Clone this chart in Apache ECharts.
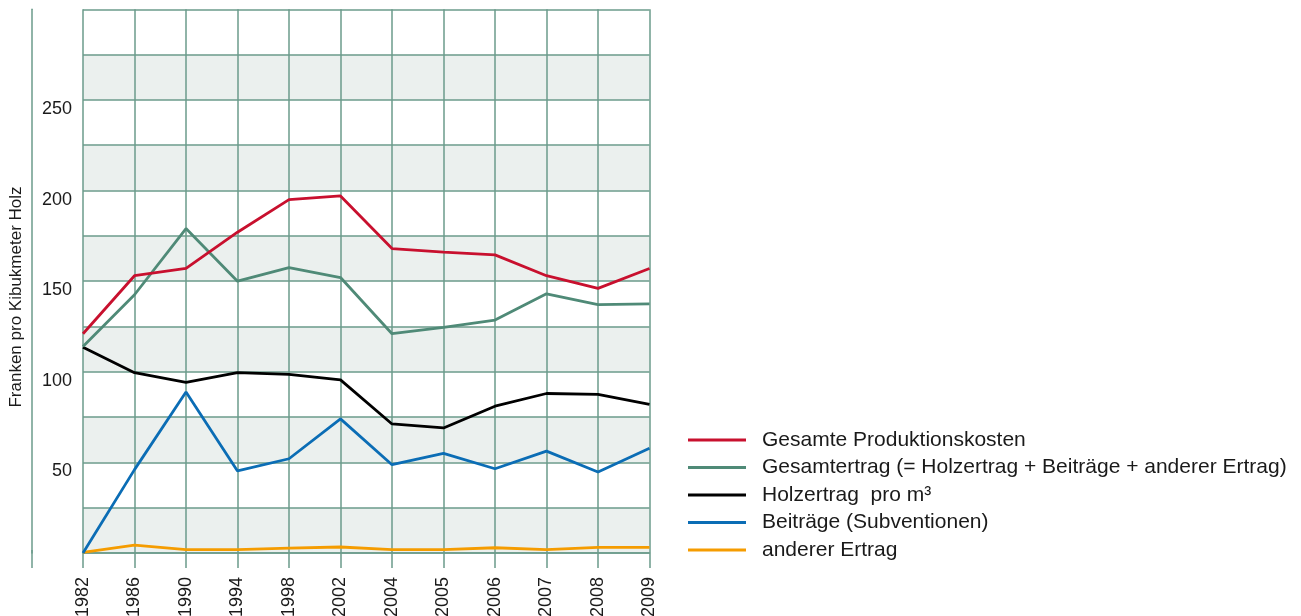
<!DOCTYPE html>
<html>
<head>
<meta charset="utf-8">
<script src="https://cdn.jsdelivr.net/npm/echarts@6/dist/echarts.min.js"></script>
<style>
html,body{margin:0;padding:0;background:#fff;}
#chart{width:1301px;height:616px;}
</style>
</head>
<body>
<div id="chart"></div>
<script>
const years = ['1982','1986','1990','1994','1998','2002','2004','2005','2006','2007','2008','2009'];
const produktionskosten = [121, 153, 157, 177, 195, 197, 168, 166, 164.5, 153, 146, 157];
const gesamtertrag = [114, 142.5, 179, 150, 157.5, 152, 121, 124.5, 128.5, 143, 137, 137.5];
const holzertrag = [113.5, 99.5, 94.2, 99.5, 98.6, 95.5, 71.2, 69, 81, 88, 87.5, 82];
const beitraege = [0, 46, 88.8, 45.3, 52, 74, 48.7, 55, 46.5, 56.2, 44.7, 57.8];
const andererErtrag = [0.4, 4.3, 1.9, 1.9, 2.7, 3.3, 1.9, 1.9, 2.9, 1.9, 3.1, 3.1];
const yLabelValues = [50, 100, 150, 200, 250];
const seriesNames = [
  'Gesamte Produktionskosten',
  'Gesamtertrag (= Holzertrag + Beiträge + anderer Ertrag)',
  'Holzertrag  pro m³',
  'Beiträge (Subventionen)',
  'anderer Ertrag'
];
const yAxisTitle = 'Franken pro Kibukmeter Holz';

const FONT = "'Liberation Sans', Arial, sans-serif";
const GRIDC = '#6b9b8b';
const colors = ['#c8102e', '#4f8a77', '#000000', '#0b6db5', '#f59c00'];
const dataSets = [produktionskosten, gesamtertrag, holzertrag, beitraege, andererErtrag];
const LEGEND_ICON = 'path://M0,0L58,0L58,3L0,3Z';

const chart = echarts.init(document.getElementById('chart'), null, {renderer: 'canvas'});
const option = {
  animation: false,
  backgroundColor: '#ffffff',
  grid: {left: 83, right: 651.5, top: 9.3, bottom: 63, containLabel: false, outerBoundsMode: 'none'},
  xAxis: {
    type: 'category',
    data: years,
    boundaryGap: false,
    axisLine: {show: true, lineStyle: {color: GRIDC, width: 1.5}},
    axisTick: {show: true, length: 15, interval: 0, lineStyle: {color: GRIDC, width: 1.5}},
    axisLabel: {rotate: 90, interval: 0, margin: 24, fontSize: 18, color: '#1a1a1a', fontFamily: FONT},
    splitLine: {show: true, interval: 0, lineStyle: {color: GRIDC, width: 1.5}}
  },
  yAxis: {
    type: 'value',
    min: 0, max: 300, interval: 25,
    position: 'left',
    offset: 51,
    axisLine: {show: true, lineStyle: {color: GRIDC, width: 1.5}},
    axisTick: {show: false},
    axisLabel: {
      inside: true, margin: 40, align: 'right', verticalAlign: 'top',
      fontSize: 18, color: '#1a1a1a', fontFamily: FONT,
      formatter: v => yLabelValues.includes(v) ? String(v) : ''
    },
    splitLine: {show: true, lineStyle: {color: GRIDC, width: 1.5}},
    splitArea: {show: true, areaStyle: {color: ['#ebf0ee', '#ffffff']}}
  },
  legend: {
    orient: 'vertical',
    left: 688, top: 429.5,
    padding: 0,
    itemWidth: 58, itemHeight: 20, itemGap: 6.5,
    icon: LEGEND_ICON,
    textStyle: {fontSize: 21, color: '#1a1a1a', fontFamily: FONT, lineHeight: 20, padding: [0, 0, 0, 11]},
    data: seriesNames
  },
  graphic: [
    {type: 'line', shape: {x1: 32, y1: 550, x2: 32, y2: 568}, style: {stroke: GRIDC, lineWidth: 1.5}, silent: true},
    {type: 'text', x: 16, y: 297, rotation: Math.PI / 2, style: {text: yAxisTitle, fontSize: 17, fontFamily: FONT, fill: '#1a1a1a', align: 'center', verticalAlign: 'middle'}, silent: true}
  ],
  series: seriesNames.map((n, i) => ({
    name: n,
    type: 'line',
    data: dataSets[i],
    symbol: 'none',
    showSymbol: false,
    color: colors[i],
    lineStyle: {color: colors[i], width: 2.8},
    z: 10 - i
  }))
};
chart.setOption(option);
</script>
</body>
</html>
